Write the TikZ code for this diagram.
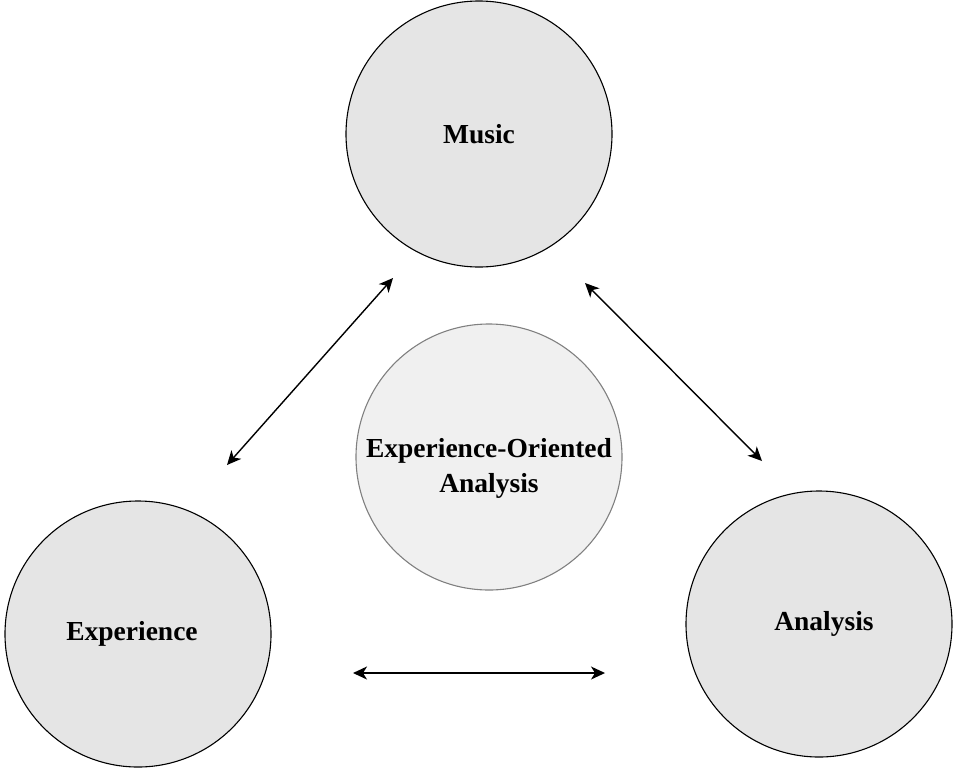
\documentclass[tikz,border=0pt]{standalone}
\usepackage{fontspec}
\setmainfont{Liberation Serif}
\usetikzlibrary{arrows.meta}
\begin{document}
\begin{tikzpicture}[x=1pt,y=-1pt,
  >={Stealth[length=14pt,width=13pt,inset=4pt]},
  label text/.style={align=center, inner sep=0pt,
    font=\fontsize{27.5}{35}\selectfont\bfseries},
  topic/.style={circle, draw=black, line width=1.1pt, fill=black!10,
    minimum size=266pt, inner sep=0pt, label text},
  core/.style={topic, draw=black!50, fill=black!6},
  link/.style={line width=1.4pt, <->}]
  \useasboundingbox (0,0) rectangle (957,772);

  % the three topics and the combined approach in the middle
  \node[topic] (music) at (479,134) {Music};
  \node[topic] (exp)   at (138,634) {\hspace*{-12pt}Experience};
  \node[topic] (ana)   at (819,624) {\hspace*{10pt}Analysis};
  \node[core]  (eoa)   at (489,457) {};
  \node[label text] (eoatext) at ([yshift=-11pt]eoa.center) {Experience-Oriented\\Analysis};

  % arrow end points in the gaps between the circles
  \coordinate (me1) at (393,278);
  \coordinate (me2) at (227,465);
  \coordinate (ma1) at (585,283);
  \coordinate (ma2) at (762,461);
  \coordinate (ea1) at (353,673);
  \coordinate (ea2) at (605,673);

  \draw[link] (me1) -- (me2);
  \draw[link] (ma1) -- (ma2);
  \draw[link] (ea1) -- (ea2);
\end{tikzpicture}
\end{document}
